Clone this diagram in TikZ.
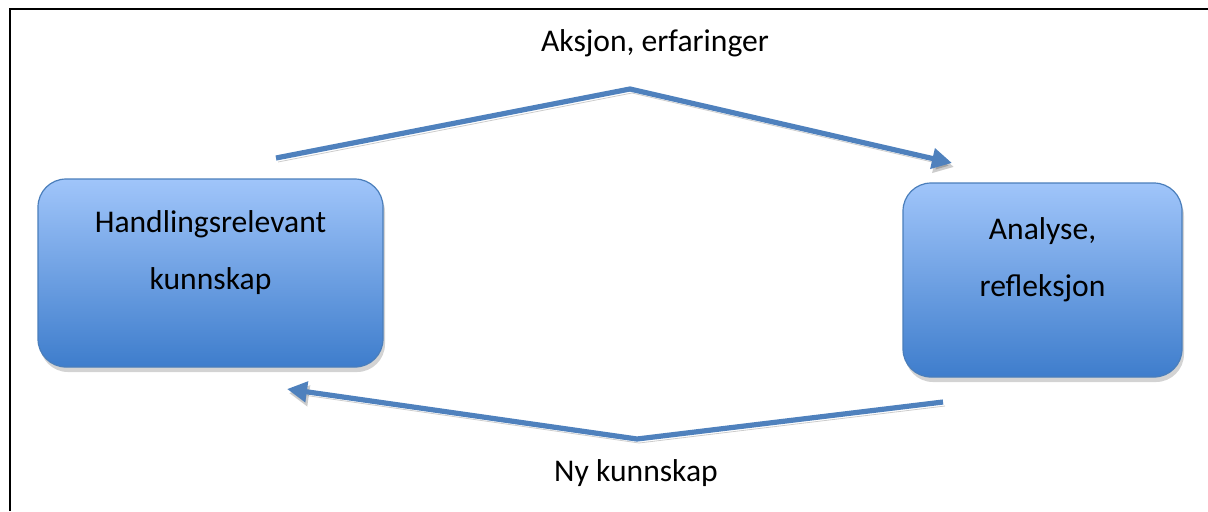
\documentclass[tikz,border=0pt]{standalone}
\usepackage{fontspec}
\setmainfont{Carlito}
\usetikzlibrary{arrows.meta,shadows}
\definecolor{boxtop}{RGB}{160,197,250}
\definecolor{boxbottom}{RGB}{62,125,204}
\definecolor{boxline}{RGB}{74,126,187}
\definecolor{arrowblue}{RGB}{79,129,189}

\begin{document}
\begin{tikzpicture}[
    x=0.5pt, y=-0.5pt,
    stagebox/.style={rectangle, draw=boxline, line width=0.6pt, rounded corners=14pt, top color=boxtop, bottom color=boxbottom, align=center, font=\fontsize{15.8}{28.5}\selectfont, text depth=23pt, drop shadow={shadow xshift=1pt, shadow yshift=-2.5pt, opacity=0.35}},
    flowarrow/.style={line width=2.6pt, draw=arrowblue, -{Triangle[length=10pt,width=10pt]}, preaction={draw=black, opacity=0.2, transform canvas={xshift=1pt,yshift=-2pt}}},
    flowlabel/.style={font=\fontsize{15.8}{19}\selectfont}
]
\useasboundingbox (0,0) rectangle (1208,511);
% frame
\draw[line width=1.4pt] (10,511) -- (10,9) -- (1208,9);

\node[stagebox, minimum width=172.5pt, minimum height=94pt] (knowledge) at (210.5,273) {Handlingsrelevant\\kunnskap};
\node[stagebox, minimum width=139.5pt, minimum height=97pt] (analysis) at (1042.5,280) {Analyse,\\refleksjon};

\coordinate (topstart) at (276,158);
\coordinate (toppeak) at (630,89);
\coordinate (topend) at (952,163);
\coordinate (bottomstart) at (943,402);
\coordinate (bottomdip) at (637,439);
\coordinate (bottomend) at (287,389);

\draw[flowarrow] (topstart) -- (toppeak) -- (topend);
\draw[flowarrow] (bottomstart) -- (bottomdip) -- (bottomend);

\node[flowlabel] (actionlabel) at (655,43) {Aksjon, erfaringer};
\node[flowlabel] (newlabel) at (636,473) {Ny kunnskap};
\end{tikzpicture}
\end{document}
